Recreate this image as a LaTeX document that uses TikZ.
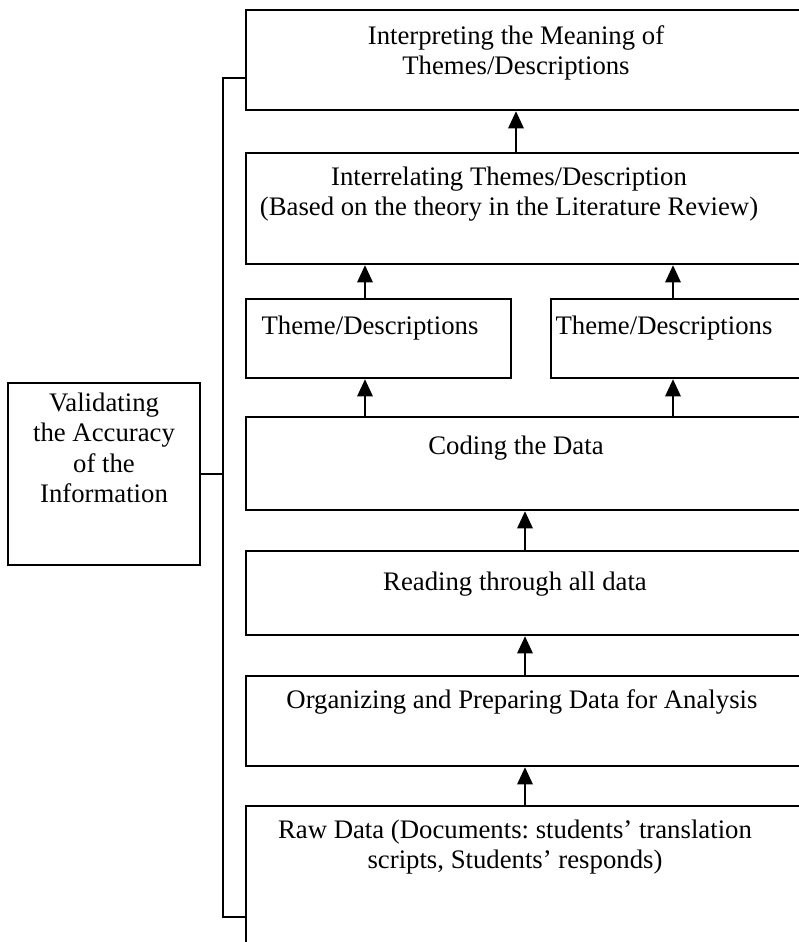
\documentclass[tikz,border=0pt]{standalone}
\usepackage{fontspec}
\setmainfont{Liberation Serif}
\usetikzlibrary{fit,arrows.meta}
\begin{document}
\frenchspacing
\begin{tikzpicture}[x=0.46pt,y=-0.46pt,
  box/.style={draw,line width=1pt,inner sep=0pt,rectangle},
  txt/.style={align=center,inner sep=0pt,font=\fontsize{12.3}{14}\selectfont},
  arr/.style={line width=1.3pt,-{Triangle[width=7pt,length=8pt]}},
  link/.style={line width=1pt}]
\useasboundingbox (0,0) rectangle (799,942);
\clip (0,0) rectangle (799,942);
% boxes
\node[box,fit={(246,10) (810,110)}] (b1) {};
\node[box,fit={(246,153) (810,264)}] (b2) {};
\node[box,fit={(246,299) (511,378)}] (t1) {};
\node[box,fit={(551,299) (810,378)}] (t2) {};
\node[box,fit={(246,417) (810,510)}] (cod) {};
\node[box,fit={(246,551) (810,635)}] (rd) {};
\node[box,fit={(246,676) (810,766)}] (org) {};
\node[box,fit={(246,806) (810,960)}] (raw) {};
\node[box,fit={(8,383) (200,565)}] (val) {};
% texts
\node[txt] (tb1) at (516,53) {Interpreting the Meaning of\\Themes/Descriptions};
\node[txt] (tb2) at (509,194) {Interrelating Themes/Description\\(Based on the theory in the Literature Review)};
\node[txt] (tt1) at (370,328) {Theme/Descriptions};
\node[txt] (tt2) at (664,328) {Theme/Descriptions};
\node[txt] (tcod) at (516,448) {Coding the Data};
\node[txt] (trd) at (515,584) {Reading through all data};
\node[txt] (torg) at (522,702) {Organizing and Preparing Data for Analysis};
\node[txt] (traw) at (515,847) {Raw Data (Documents: students' translation\\scripts, Students' responds)};
\node[txt] (tval) at (104,448) {Validating\\the Accuracy\\of the\\Information};
% helper coordinates
\coordinate (xa) at (516,0);
\coordinate (xb) at (525,0);
\coordinate (xl) at (365,0);
\coordinate (xr) at (673,0);
\coordinate (br1) at (223,78);
\coordinate (br2) at (223,917);
% arrows
\draw[arr] (b2.north -| xa) -- (b1.south -| xa);
\draw[arr] (t1.north -| xl) -- (b2.south -| xl);
\draw[arr] (t2.north -| xr) -- (b2.south -| xr);
\draw[arr] (cod.north -| xl) -- (t1.south -| xl);
\draw[arr] (cod.north -| xr) -- (t2.south -| xr);
\draw[arr] (rd.north -| xb) -- (cod.south -| xb);
\draw[arr] (org.north -| xb) -- (rd.south -| xb);
\draw[arr] (raw.north -| xb) -- (org.south -| xb);
% bracket
\draw[link] (br1 -| b1.west) -- (br1) -- (br2) -- (br2 -| raw.west);
\draw[link] (val.east) -- (val.east -| br1);
\end{tikzpicture}
\end{document}
